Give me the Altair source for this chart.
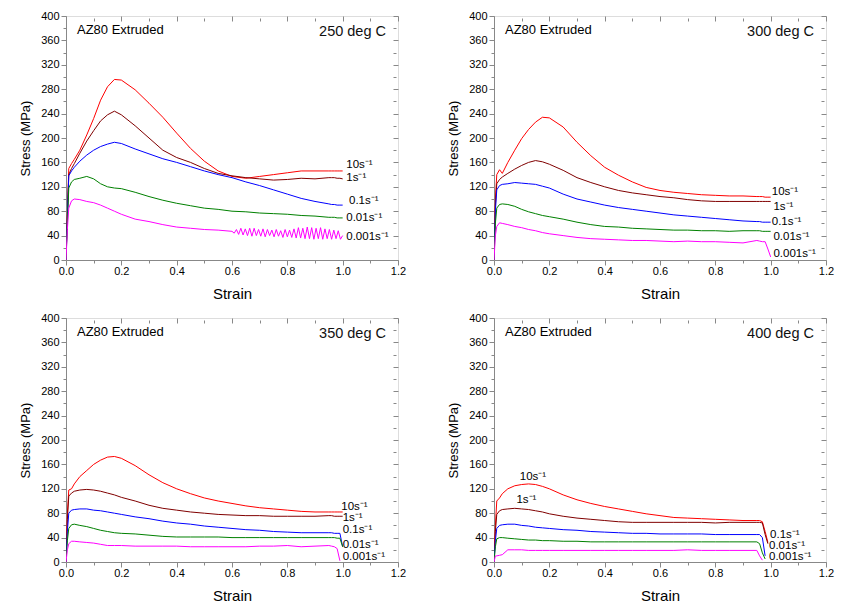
import altair as alt
import pandas as pd

# ---------------- data ----------------
RATES = ["10s⁻¹", "1s⁻¹", "0.1s⁻¹", "0.01s⁻¹", "0.001s⁻¹"]
COLORS = ["#ff0000", "#800000", "#0000ff", "#008000", "#ff00ff"]

STRAIN = [0, 0.005, 0.01, 0.02, 0.03, 0.05, 0.075, 0.1, 0.125, 0.15, 0.175, 0.2,
          0.25, 0.3, 0.35, 0.4, 0.45, 0.5, 0.55, 0.6, 0.65, 0.7, 0.75, 0.8, 0.85,
          0.9, 0.95, 0.96, 0.97, 0.98, 0.99, 1.0]

# 250 deg C
T250_R10 = [0, 80, 150, 158, 165, 180, 205, 232, 262, 284, 296, 295, 279, 257, 234, 208,
            183, 162, 146, 137, 134, 137, 140, 143, 146, 146, 146, 146, 146, 146, 146, 146]
T250_R1 = [0, 75, 140, 150, 158, 175, 195, 212, 228, 238, 244, 238, 220, 200, 180, 168,
           160, 150, 142, 138, 135, 133, 131, 132, 134, 133, 135, 135, 135, 134, 134, 133]
T250_R01 = [0, 70, 138, 146, 152, 162, 172, 180, 186, 190, 193, 191, 182, 174, 166, 160,
            153, 146, 140, 135, 128, 122, 115, 108, 101, 96, 92, 91, 91, 90, 90, 90]
T250_R001 = [0, 60, 118, 128, 132, 134, 137, 133, 125, 120, 118, 117, 111, 104, 98, 93,
             89, 85, 83, 80, 79, 77, 76, 75, 73, 72, 70, 70, 70, 69, 69, 69]
T250_R0001 = [0, 50, 85, 97, 100, 99, 96, 94, 90, 85, 80, 75, 67, 63, 58, 54,
              52, 50, 49, 47, None, None, None, None, None, None, None, None, None, None, None, None]
# oscillating tail of the 0.001/s curve at 250 deg C
ZIG_STRAIN = [0.608, 0.616, 0.624, 0.632, 0.640, 0.648, 0.656, 0.664, 0.672, 0.680,
              0.688, 0.696, 0.704, 0.712, 0.720, 0.728, 0.736, 0.744, 0.752, 0.760,
              0.768, 0.776, 0.784, 0.792, 0.800, 0.808, 0.816, 0.824, 0.832, 0.840,
              0.848, 0.856, 0.864, 0.872, 0.880, 0.888, 0.896, 0.904, 0.912, 0.920,
              0.928, 0.936, 0.944, 0.952, 0.960, 0.968, 0.976, 0.984, 0.992, 1.000]
ZIG_STRESS = [44, 50, 42, 52, 41, 51, 40, 52, 39, 52,
              40, 50, 39, 51, 38, 50, 40, 49, 38, 50,
              39, 48, 37, 50, 38, 49, 37, 51, 36, 53,
              36, 52, 35, 54, 35, 53, 34, 52, 35, 53,
              34, 51, 35, 50, 34, 49, 35, 48, 34, 40]

# 300 deg C
T300_R10 = [0, 100, 140, 148, 142, 160, 180, 199, 214, 226, 234, 233, 218, 193, 171, 152,
            139, 128, 119, 114, 111, 109, 107, 106, 105, 105, 104, 104, 104, 103, 103, 103]
T300_R1 = [0, 90, 125, 132, 136, 142, 149, 155, 160, 163, 161, 157, 147, 135, 127, 120,
           114, 110, 107, 104, 102, 99, 97, 96, 96, 96, 96, 96, 96, 96, 96, 96]
T300_R01 = [0, 80, 115, 122, 124, 125, 127, 126, 125, 124, 121, 118, 108, 100, 95, 90,
            86, 83, 80, 77, 74, 72, 70, 68, 66, 64, 63, 63, 62, 62, 62, 62]
T300_R001 = [0, 60, 85, 91, 92, 91, 88, 83, 79, 76, 73, 71, 67, 62, 58, 55,
             54, 52, 51, 50, 49, 49, 48, 48, 47, 48, 48, 48, 47, 47, 47, 47]
T300_R0001 = [0, 40, 55, 61, 60, 58, 55, 53, 50, 48, 45, 43, 40, 37, 35, 34,
              33, 32, 32, 31, 30, 31, 30, 30, 29, 28, 32, 31, 30, 30, 18, 5]

# 350 deg C
T350_R10 = [0, 80, 118, 120, 128, 140, 150, 160, 167, 172, 173, 170, 158, 143, 130, 120,
            112, 105, 100, 96, 92, 89, 87, 85, 83, 82, 82, 82, 82, 82, 82, 82]
T350_R1 = [0, 70, 108, 113, 116, 118, 119, 118, 116, 113, 110, 106, 100, 93, 88, 85,
           82, 80, 78, 77, 76, 76, 75, 75, 75, 75, 76, 76, 75, 75, 75, 75]
T350_R01 = [0, 50, 80, 85, 86, 87, 87, 85, 84, 82, 80, 78, 74, 71, 67, 64,
            62, 59, 57, 55, 53, 52, 50, 49, 48, 48, 48, 48, 47, 47, 47, 25]
T350_R001 = [0, 35, 55, 61, 62, 60, 58, 55, 52, 50, 48, 47, 46, 44, 42, 41,
             41, 41, 41, 40, 40, 40, 40, 40, 40, 40, 40, 40, 40, 39, 39, 25]
T350_R0001 = [0, 20, 30, 34, 34, 33, 32, 31, 29, 27, 27, 27, 26, 26, 26, 26,
              25, 25, 25, 25, 25, 26, 26, 27, 25, 26, 27, 26, 25, 22, 2, None]

# 400 deg C
T400_R10 = [0, 60, 100, 105, 112, 120, 125, 127, 128, 127, 124, 120, 110, 102, 96, 91,
            87, 83, 79, 76, 73, 72, 71, 70, 69, 68, 68, 68, 66, 50, 32, None]
T400_R1 = [0, 50, 78, 84, 86, 87, 88, 87, 86, 84, 82, 79, 75, 72, 70, 68,
           66, 65, 65, 65, 65, 65, 65, 64, 65, 65, 65, 65, 64, 45, 30, None]
T400_R01 = [0, 35, 55, 60, 61, 62, 62, 60, 59, 57, 56, 55, 53, 52, 50, 49,
            48, 47, 47, 46, 46, 46, 46, 45, 45, 45, 45, 45, 40, 10, None, None]
T400_R001 = [0, 25, 38, 40, 40, 39, 38, 37, 36, 36, 35, 35, 34, 34, 33, 33,
             33, 33, 33, 33, 33, 33, 33, 33, 33, 33, 33, 30, 15, 5, None, None]
T400_R0001 = [0, 10, 10, 11, 12, 20, 20, 20, 19, 19, 19, 19, 19, 19, 19, 19,
              19, 19, 19, 19, 19, 20, 19, 19, 19, 19, 19, 10, 3, None, None, None]

# curve label anchors (strain, stress) per panel, same order as RATES
LBL250_X = [1.013, 1.013, 1.023, 1.013, 1.013]
LBL250_Y = [155, 134, 96, 69, 38]
LBL300_X = [1.004, 1.01, 1.004, 1.01, 1.01]
LBL300_Y = [111, 87, 63, 37, 10]
LBL350_X = [0.995, 1.0, 1.0, 1.0, 1.0]
LBL350_Y = [90, 72, 53, 28, 9]
LBL400_X = [0.093, 0.081, 0.998, 0.994, 0.994]
LBL400_Y = [139, 101, 44, 26, 8]

TEMPS = ["250 deg C", "300 deg C", "350 deg C", "400 deg C"]
Y_TICKS = [0, 20, 40, 60, 80, 100, 120, 140, 160, 180, 200, 220, 240, 260, 280, 300,
           320, 340, 360, 380, 400]
X_TICKS = [0, 0.1, 0.2, 0.3, 0.4, 0.5, 0.6, 0.7, 0.8, 0.9, 1.0, 1.1, 1.2]

FONT = "Liberation Sans"
W, H = 332, 244


def long_frame(series, extra=None):
    rows = []
    for rate, vals in zip(RATES, series):
        for s, v in zip(STRAIN, vals):
            if v is not None:
                rows.append({"strain": s, "stress": v, "rate": rate})
    if extra:
        rate, xs, ys = extra
        for s, v in zip(xs, ys):
            rows.append({"strain": s, "stress": v, "rate": rate})
    return pd.DataFrame(rows)


Y_MAJOR = "datum.value % 40 === 0"
X_MAJOR = "round(datum.value * 10) % 2 === 0"


def tick_size(test, big, small):
    return {"condition": {"test": test, "value": big}, "value": small}


def panel(temp, series, lx, ly, extra=None):
    df = long_frame(series, extra)
    xs = alt.Scale(domain=[0, 1.2], nice=False, zero=False)
    ys = alt.Scale(domain=[0, 400], nice=False, zero=False)
    color = alt.Color("rate:N", scale=alt.Scale(domain=RATES, range=COLORS), legend=None)

    x_axis = alt.Axis(values=X_TICKS, title="Strain", grid=False, labelFlush=False,
                      labelExpr=f"{X_MAJOR} ? format(datum.value, '.1f') : ''",
                      tickSize=tick_size(X_MAJOR, 5, 3), labelFontSize=11, titleFontSize=15,
                      titleFontWeight="normal", labelPadding=0, titlePadding=10)
    y_axis = alt.Axis(values=Y_TICKS, title="Stress (MPa)", grid=False, labelFlush=False,
                      labelExpr=f"{Y_MAJOR} ? datum.label : ''",
                      tickSize=tick_size(Y_MAJOR, 5, 3), labelFontSize=11, titleFontSize=13,
                      titleFontWeight="normal", labelPadding=2, titlePadding=8)

    lines = alt.Chart(df).mark_line(strokeWidth=1, clip=True).encode(
        x=alt.X("strain:Q", scale=xs, axis=x_axis),
        y=alt.Y("stress:Q", scale=ys, axis=y_axis),
        color=color,
        order=alt.Order("strain:Q"),
    )

    lab = pd.DataFrame({"lx": lx, "ly": ly, "rate": RATES})
    top_axis = alt.Axis(orient="top", values=X_TICKS, labels=False, title=None, domain=False,
                        grid=False, offset=-5, tickSize=tick_size(X_MAJOR, 5, 3))
    right_axis = alt.Axis(orient="right", values=Y_TICKS, labels=False, title=None, domain=False,
                          grid=False, offset=-5, tickSize=tick_size(Y_MAJOR, 5, 3))
    labels = alt.Chart(lab).mark_text(align="left", baseline="middle", fontSize=11.5,
                                      font=FONT, color="black").encode(
        x=alt.X("lx:Q", scale=xs, axis=top_axis),
        y=alt.Y("ly:Q", scale=ys, axis=right_axis),
        text="rate:N",
    )

    alloy = alt.Chart(pd.DataFrame({"t": ["AZ80 Extruded"]})).mark_text(
        align="left", baseline="middle", fontSize=13, font=FONT, color="black"
    ).encode(x=alt.value(11), y=alt.value(14), text="t:N")
    temp_t = alt.Chart(pd.DataFrame({"t": [temp]})).mark_text(
        align="right", baseline="middle", fontSize=14.5, font=FONT, color="#111111"
    ).encode(x=alt.value(W - 12), y=alt.value(16), text="t:N")

    return alt.layer(lines, labels, alloy, temp_t).resolve_scale(
        x="independent", y="independent"
    ).resolve_axis(x="independent", y="independent").properties(width=W, height=H)


p1 = panel(TEMPS[0], [T250_R10, T250_R1, T250_R01, T250_R001, T250_R0001], LBL250_X, LBL250_Y,
           extra=(RATES[4], ZIG_STRAIN, ZIG_STRESS))
p2 = panel(TEMPS[1], [T300_R10, T300_R1, T300_R01, T300_R001, T300_R0001], LBL300_X, LBL300_Y)
p3 = panel(TEMPS[2], [T350_R10, T350_R1, T350_R01, T350_R001, T350_R0001], LBL350_X, LBL350_Y)
p4 = panel(TEMPS[3], [T400_R10, T400_R1, T400_R01, T400_R001, T400_R0001], LBL400_X, LBL400_Y)

chart = alt.vconcat(
    alt.hconcat(p1, p2, spacing=40),
    alt.hconcat(p3, p4, spacing=40),
    spacing=9,
).properties(
    padding={"left": 11, "top": 1, "right": 0, "bottom": 0}
).configure_view(
    stroke="black", strokeWidth=1
).configure_axis(
    domainColor="black", tickColor="black", labelColor="black", titleColor="black",
    labelFont=FONT, titleFont=FONT, titleFontWeight="normal", domainWidth=1, tickWidth=1
).configure(background="white")

chart.save("out.html", embed_options={"renderer": "svg", "actions": False})
